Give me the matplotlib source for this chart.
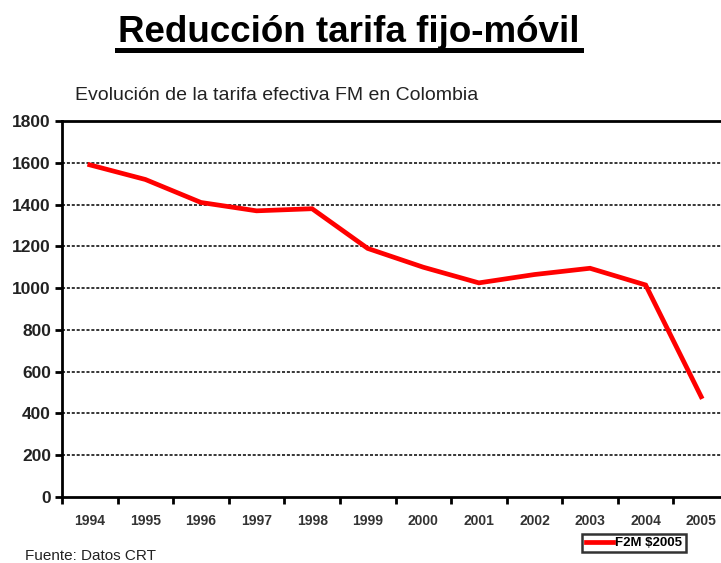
import matplotlib
matplotlib.use("Agg")
import matplotlib.pyplot as plt
from matplotlib.lines import Line2D
import numpy as np

plt.rcParams['font.family'] = ['Liberation Sans', 'DejaVu Sans']

years = ['1994', '1995', '1996', '1997', '1998', '1999', '2000', '2001',
         '2002', '2003', '2004', '2005']
tarifa = [1590, 1520, 1410, 1370, 1380, 1190, 1100, 1025, 1065, 1095, 1015, 480]
y_ticks = [0, 200, 400, 600, 800, 1000, 1200, 1400, 1600, 1800]

W, H = 721, 563
fig = plt.figure(figsize=(W / 100, H / 100), dpi=100)
fig.patch.set_facecolor('white')

ax = fig.add_axes([62 / W, (H - 497) / H, 667 / W, 376 / H])
x = np.arange(len(years))
ax.plot(x, tarifa, color='#FF0000', linewidth=3.4, solid_joinstyle='miter',
        label='F2M $2005', zorder=3)

ax.set_xlim(-0.5, len(years) - 0.5)
ax.set_ylim(0, 1800)
ax.set_yticks(y_ticks)
ax.set_yticklabels([str(v) for v in y_ticks], fontsize=12.5, fontweight='bold',
                   color='#222222')
ax.set_xticks(x)
ax.set_xticklabels(years, fontsize=10, fontweight='bold', color='#333333')
ax.set_xticks(np.arange(len(years) + 1) - 0.5, minor=True)
ax.tick_params(axis='x', which='major', length=0, pad=12)
ax.tick_params(axis='x', which='minor', length=5, width=2, direction='out')
ax.tick_params(axis='y', which='major', length=5, width=2, direction='out', pad=3)

for v in y_ticks[1:-1]:
    ax.axhline(v, color='black', linestyle=(0, (2, 1.2)), linewidth=1.1, zorder=1)

for s in ['left', 'bottom', 'top']:
    ax.spines[s].set_linewidth(2)
    ax.spines[s].set_color('black')
ax.spines['right'].set_visible(False)

# Title with underline
t = fig.text(118 / W, 1 - 42 / H, 'Reducción tarifa fijo-móvil', fontsize=26.5,
             fontweight='bold', ha='left', va='baseline')
fig.canvas.draw()
bb = t.get_window_extent(renderer=fig.canvas.get_renderer())
uy = 1 - 50 / H
fig.add_artist(Line2D([117 / W, bb.x1 / W + 1 / W], [uy, uy], color='black',
                      linewidth=3.6, transform=fig.transFigure))

fig.text(75 / W, 1 - 96 / H, 'Evolución de la tarifa efectiva FM en Colombia',
         fontsize=14, ha='left', va='center', color='#222222')

fig.text(25 / W, 1 - 556 / H, 'Fuente: Datos CRT', fontsize=11,
         ha='left', va='center', color='#222222')

leg = ax.legend(loc='center', bbox_to_anchor=(634 / W, 1 - 543 / H),
                bbox_transform=fig.transFigure, frameon=True, fancybox=False,
                shadow=False, edgecolor='black',
                prop={'weight': 'bold', 'size': 9.5}, handlelength=2.1,
                handletextpad=0.15, borderpad=0.25, borderaxespad=0)
leg.get_frame().set_linewidth(1.8)

fig.savefig('out.png', dpi=100, facecolor='white')
